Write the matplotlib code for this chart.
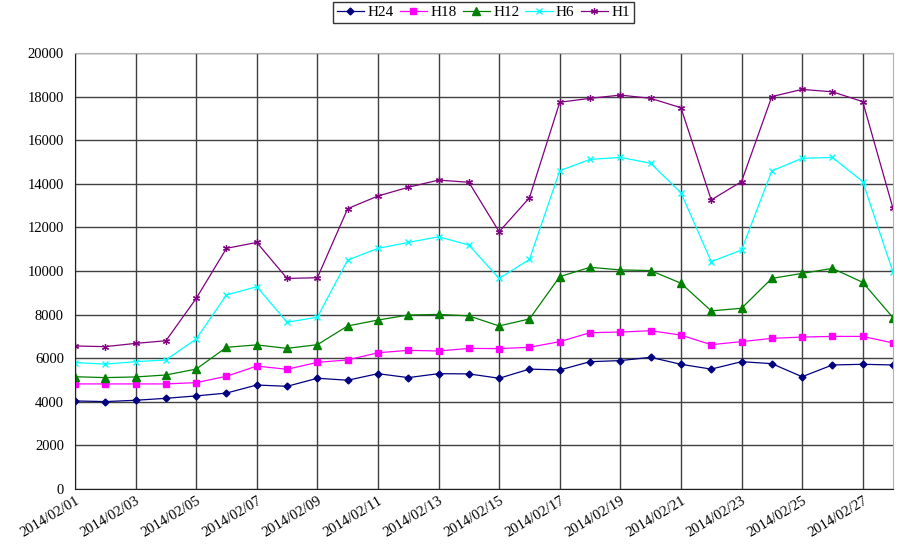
import matplotlib
matplotlib.use("Agg")
import matplotlib.pyplot as plt
import numpy as np

dates = ["2014/02/%02d" % d for d in range(1, 29)]

h24 = [4040, 4010, 4070, 4160, 4270, 4400, 4770, 4710, 5080, 4990,
       5290, 5110, 5290, 5280, 5080, 5500, 5460, 5840, 5890, 6040,
       5720, 5500, 5840, 5750, 5150, 5690, 5720, 5690]
h18 = [4820, 4820, 4820, 4820, 4880, 5170, 5640, 5490, 5810, 5920,
       6250, 6360, 6330, 6450, 6440, 6500, 6760, 7170, 7200, 7260,
       7060, 6620, 6760, 6910, 6970, 7000, 7000, 6700]
h12 = [5150, 5110, 5140, 5230, 5500, 6500, 6610, 6450, 6620, 7480,
       7750, 7980, 8010, 7940, 7480, 7800, 9740, 10170, 10050, 10020,
       9440, 8170, 8290, 9660, 9890, 10120, 9480, 7860]
h6 = [5800, 5730, 5840, 5920, 6880, 8900, 9280, 7650, 7880, 10500,
      11040, 11310, 11570, 11190, 9660, 10530, 14600, 15120, 15210, 14940,
      13590, 10430, 10960, 14590, 15170, 15210, 14100, 9950]
h1 = [6560, 6530, 6680, 6800, 8740, 11040, 11310, 9660, 9690, 12860,
      13440, 13840, 14170, 14070, 11800, 13360, 17740, 17920, 18070, 17920,
      17490, 13260, 14100, 18000, 18330, 18220, 17770, 12870]

series = [
    ("H24", h24, "#000080", "D", 3.5, 1),
    ("H18", h18, "#ff00ff", "s", 5, 1),
    ("H12", h12, "#008000", "^", 5.5, 1),
    ("H6", h6, "#00ffff", "x", 4.5, 1),
    ("H1", h1, "#800080", (6, 2, 0), 5, 0.9),
]

plt.rcParams["font.family"] = ["Liberation Serif", "DejaVu Serif"]

fig = plt.figure(figsize=(9, 5.44), dpi=100)
ax = fig.add_axes([75 / 900, 1 - 489 / 544, 818 / 900, 436 / 544])

x = np.arange(len(dates))
for name, vals, col, mk, ms, mew in series:
    ax.plot(x, vals, color=col, marker=mk, markersize=ms, linewidth=0.9,
            markeredgewidth=mew, label=name)

ax.set_xlim(0, len(dates) - 1)
ax.set_ylim(0, 20000)
ax.set_yticks(np.arange(0, 20001, 2000))
ax.set_xticks(x[::2])
ax.set_xticklabels(dates[::2], rotation=31, ha="right", rotation_mode="anchor",
                   fontsize=10.5)
ax.tick_params(axis="y", labelsize=10.5, length=0, pad=8)
ax.tick_params(axis="x", length=0, pad=4)
ax.grid(True, color="#404040", linewidth=1)
ax.set_axisbelow(True)

for s in ["top", "right"]:
    ax.spines[s].set_color("#b0b0b0")
for s in ["left", "bottom"]:
    ax.spines[s].set_color("#202020")

leg = fig.legend(loc="upper center", bbox_to_anchor=(0.537, 0.997), ncol=5,
                 frameon=True, fancybox=False, edgecolor="black", fontsize=11,
                 handlelength=1.8, handletextpad=0.2, columnspacing=0.4,
                 borderpad=0.25, borderaxespad=0)
leg.get_frame().set_linewidth(1)

fig.savefig("out.png", dpi=100)
